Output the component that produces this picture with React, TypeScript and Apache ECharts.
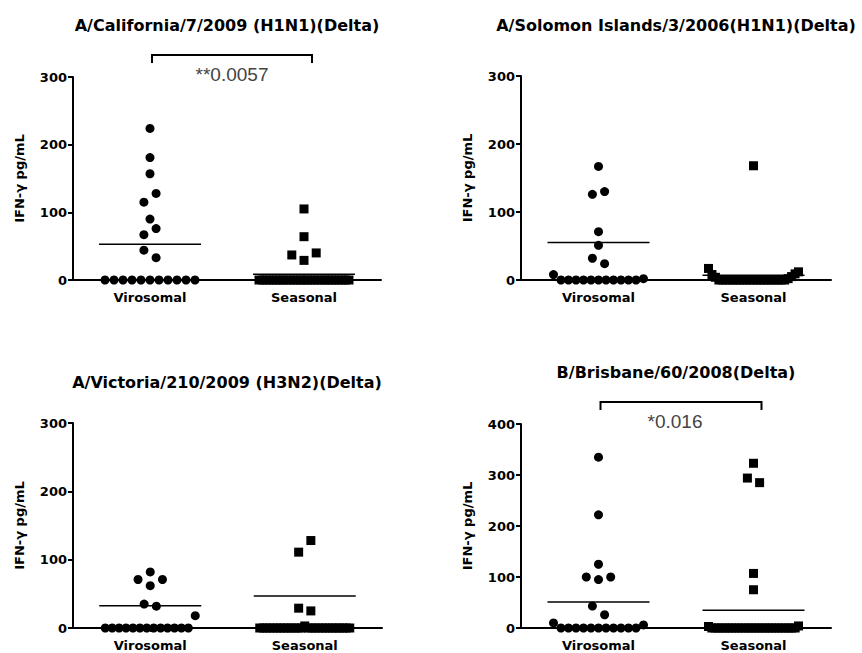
import React, { useEffect, useRef } from "react";
import * as echarts from "echarts";

const categories = ["Virosomal", "Seasonal"];
const panelTitles = [
  "A/California/7/2009 (H1N1)(Delta)",
  "A/Solomon Islands/3/2006(H1N1)(Delta)",
  "A/Victoria/210/2009 (H3N2)(Delta)",
  "B/Brisbane/60/2008(Delta)",
];
const yAxisMax = [300, 300, 300, 400];
const yTickStep = 100;
const yAxisName = "IFN-γ pg/mL";

const zeros = (n: number): number[] => Array(n).fill(0);

// Each inner array is one horizontal row of the scatter
const californiaVirosomal = [[224], [181], [157], [115, 128], [90], [67, 76], [44, 33], zeros(11)];
const californiaSeasonal = [[105], [64], [37, 29, 40], zeros(27)];
const solomonVirosomal = [[167], [126, 130], [71], [51], [32, 24], [8, ...zeros(11), 2]];
const solomonSeasonal = [[168], [17, 8, 4, ...zeros(20), 2, 5, 9, 12]];
const victoriaVirosomal = [[82], [71, 62, 71], [35, 32], [...zeros(13), 18]];
const victoriaSeasonal = [[111, 128], [29, 25], [...zeros(13), 3, ...zeros(13)]];
const brisbaneVirosomal = [[335], [222], [125], [100, 95, 100], [43, 26], [10, ...zeros(11), 6]];
const brisbaneSeasonal = [[323], [294, 285], [107], [75], [3, ...zeros(26), 4]];

const virosomalRows = [californiaVirosomal, solomonVirosomal, victoriaVirosomal, brisbaneVirosomal];
const seasonalRows = [californiaSeasonal, solomonSeasonal, victoriaSeasonal, brisbaneSeasonal];

// Horizontal summary lines [Virosomal, Seasonal]
const summaryLines = [
  [53, 8.5],
  [55, 7],
  [32.5, 47],
  [51, 35],
];

const pValueLabels = ["**0.0057", "", "", "*0.016"];

// ---- layout / style ----
const grids = [
  { left: 73, top: 77, width: 308, height: 203 },
  { left: 521, top: 76, width: 310, height: 204 },
  { left: 73, top: 423, width: 309, height: 205 },
  { left: 521, top: 424, width: 310, height: 204 },
];
const titlePos = [
  { x: 227, y: 25 },
  { x: 676, y: 25 },
  { x: 227, y: 382 },
  { x: 676, y: 372 },
];
const X_MIN = 0;
const X_MAX = 4;
const CAT_X = [1, 3];
const BOLD_FONT = "DejaVu Sans";
const PLAIN_FONT = "Liberation Sans";

function rowOffsets(n: number): number[] {
  if (n <= 1) return [0];
  const s = Math.min(12.2, 90 / (n - 1));
  return Array.from({ length: n }, (_, i) => (i - (n - 1) / 2) * s);
}

function buildPoints(rows: number[][], catX: number, pxPerUnit: number) {
  const pts: number[][] = [];
  rows.forEach((row) => {
    const offs = rowOffsets(row.length);
    row.forEach((v, i) => pts.push([catX + offs[i] / pxPerUnit, v]));
  });
  return pts;
}

export default function App() {
  const ref = useRef<HTMLDivElement>(null);

  useEffect(() => {
    document.body.style.margin = "0";
    if (!ref.current) return;
    const chart = echarts.init(ref.current, undefined, { renderer: "svg" });

    const xAxes: any[] = [];
    const yAxes: any[] = [];
    const series: any[] = [];
    const graphics: any[] = [];

    grids.forEach((g, p) => {
      const pxPerUnit = g.width / (X_MAX - X_MIN);
      xAxes.push({
        gridIndex: p,
        type: "value",
        min: X_MIN,
        max: X_MAX,
        axisLine: { show: true, onZero: false, lineStyle: { color: "#000", width: 2 } },
        axisTick: { show: true, customValues: CAT_X, length: 4, lineStyle: { color: "#000", width: 2 } },
        axisLabel: {
          customValues: CAT_X,
          formatter: (v: number) => categories[CAT_X.indexOf(v)] ?? "",
          color: "#000",
          fontFamily: BOLD_FONT,
          fontWeight: "bold",
          fontSize: 13,
          margin: 11,
        },
        splitLine: { show: false },
      });
      yAxes.push({
        gridIndex: p,
        type: "value",
        min: 0,
        max: yAxisMax[p],
        interval: yTickStep,
        name: yAxisName,
        nameLocation: "middle",
        nameRotate: 90,
        nameGap: 47,
        nameTextStyle: { color: "#000", fontFamily: BOLD_FONT, fontWeight: "bold", fontSize: 13 },
        axisLine: { show: true, lineStyle: { color: "#000", width: 2 } },
        axisTick: { show: true, length: 5, lineStyle: { color: "#000", width: 2 } },
        axisLabel: { color: "#000", fontFamily: BOLD_FONT, fontWeight: "bold", fontSize: 13, margin: 6 },
        splitLine: { show: false },
      });

      series.push({
        type: "scatter",
        xAxisIndex: p,
        yAxisIndex: p,
        symbol: "circle",
        symbolSize: 9,
        clip: false,
        itemStyle: { color: "#000", opacity: 1 },
        data: buildPoints(virosomalRows[p], CAT_X[0], pxPerUnit),
        z: 3,
      });
      series.push({
        type: "scatter",
        xAxisIndex: p,
        yAxisIndex: p,
        symbol: "rect",
        symbolSize: 9,
        clip: false,
        itemStyle: { color: "#000", opacity: 1 },
        data: buildPoints(seasonalRows[p], CAT_X[1], pxPerUnit),
        z: 3,
      });
      const halfLen = 51 / pxPerUnit;
      CAT_X.forEach((cx, c) => {
        series.push({
          type: "line",
          xAxisIndex: p,
          yAxisIndex: p,
          symbol: "none",
          silent: true,
          clip: false,
          lineStyle: { color: "#000", width: 1.5 },
          data: [
            [cx - halfLen, summaryLines[p][c]],
            [cx + halfLen, summaryLines[p][c]],
          ],
          z: 2,
        });
      });

      graphics.push({
        type: "text",
        x: titlePos[p].x,
        y: titlePos[p].y,
        style: {
          text: panelTitles[p],
          font: `bold 16px "${BOLD_FONT}"`,
          fill: "#000",
          align: "center",
          verticalAlign: "middle",
          textAlign: "center",
          textVerticalAlign: "middle",
        },
      });

      if (pValueLabels[p]) {
        const x1 = g.left + (CAT_X[0] - X_MIN) * pxPerUnit + 2;
        const x2 = g.left + (CAT_X[1] - X_MIN) * pxPerUnit + 8;
        const by = g.top - 22;
        graphics.push({
          type: "polyline",
          shape: { points: [[x1, by + 8], [x1, by], [x2, by], [x2, by + 8]] },
          style: { stroke: "#000", lineWidth: 2, fill: "none" },
        });
        graphics.push({
          type: "text",
          x: (x1 + x2) / 2 - (p === 3 ? 6 : 0),
          y: g.top - 3,
          style: {
            text: pValueLabels[p],
            font: `19px "${PLAIN_FONT}"`,
            fill: "#444",
            align: "center",
            verticalAlign: "middle",
            textAlign: "center",
            textVerticalAlign: "middle",
          },
        });
      }
    });

    chart.setOption({
      animation: false,
      backgroundColor: "#fff",
      grid: grids.map((g) => ({ ...g, containLabel: false })),
      xAxis: xAxes,
      yAxis: yAxes,
      series,
      graphic: graphics,
    });

    return () => chart.dispose();
  }, []);

  return <div ref={ref} style={{ width: 862, height: 653 }} />;
}
